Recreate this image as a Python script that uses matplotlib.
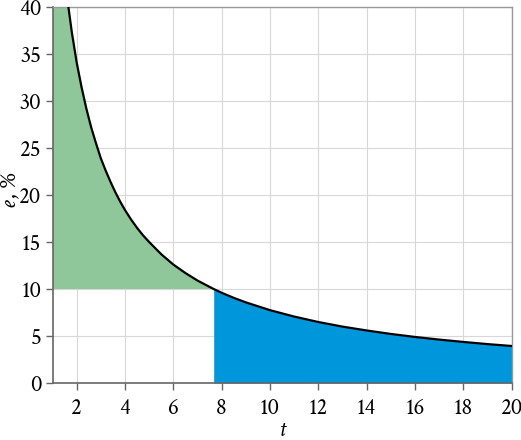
import matplotlib
matplotlib.use("Agg")
import matplotlib.pyplot as plt
import numpy as np

# values
t_vals = [1.0, 1.2, 1.4, 1.6, 1.8, 2.0, 2.2, 2.4, 2.6, 2.8, 3.0, 3.2, 3.4, 3.6, 3.8, 4.0,
          4.25, 4.5, 4.75, 5.0, 5.5, 6.0, 6.5, 7.0, 7.67, 8.0, 8.5, 9.0, 10.0, 11.0, 12.0,
          13.0, 14.0, 15.0, 16.0, 17.0, 18.0, 19.0, 20.0]
e_vals = [59.4, 51.7, 45.8, 41.1, 37.3, 34.1, 31.5, 29.2, 27.2, 25.5, 23.9, 22.6, 21.4,
          20.3, 19.3, 18.4, 17.4, 16.5, 15.7, 15.0, 13.7, 12.6, 11.7, 10.9, 10.0, 9.6,
          9.06, 8.58, 7.75, 7.07, 6.49, 6.0, 5.59, 5.22, 4.9, 4.62, 4.37, 4.14, 3.94]
threshold_e = 10.0
threshold_t = 7.67
x_ticks = [2, 4, 6, 8, 10, 12, 14, 16, 18, 20]
y_ticks = [0, 5, 10, 15, 20, 25, 30, 35, 40]

FONT = 'Crimson Text'
plt.rcParams['font.family'] = [FONT, 'DejaVu Serif']

fig = plt.figure(figsize=(5.21, 4.40), dpi=100)
ax = fig.add_axes([0.1008, 0.1295, 0.8812, 0.8545])

t = np.array(t_vals)
e = np.array(e_vals)

left = t <= threshold_t
ax.fill_between(t[left], threshold_e, e[left], color='#8fc79b', linewidth=0, zorder=2)
right = t >= threshold_t
ax.fill_between(t[right], 0, e[right], color='#0096db', linewidth=0, zorder=2)
ax.plot(t, e, color='black', linewidth=1.6, zorder=3, solid_joinstyle='round')

ax.set_xlim(1, 20)
ax.set_ylim(0, 40)
ax.set_xticks(x_ticks)
ax.set_yticks(y_ticks)
ax.set_xticklabels([str(v) for v in x_ticks], family=FONT, fontsize=16.5)
ax.set_yticklabels([str(v) for v in y_ticks], family=FONT, fontsize=16.5)
ax.grid(True, color='#d8d8d8', linewidth=0.8, zorder=0)
ax.set_axisbelow(True)

for s in ['left', 'bottom']:
    ax.spines[s].set_color('#666666')
    ax.spines[s].set_linewidth(1.2)
for s in ['top', 'right']:
    ax.spines[s].set_color('#999999')
    ax.spines[s].set_linewidth(1.0)

ax.tick_params(axis='both', direction='out', length=5, width=1.0, color='#666666', pad=3)
ax.tick_params(axis='x', pad=6)

ax.set_xlabel('t', family=FONT, style='italic', fontsize=17.5)
ax.xaxis.set_label_coords(0.5, -0.098)

ylab_x = -0.094
ax.text(ylab_x, 0.49, 'e', transform=ax.transAxes, rotation=90, family=FONT, style='italic',
        fontsize=17.5, ha='center', va='top')
ax.text(ylab_x, 0.49, ', %', transform=ax.transAxes, rotation=90, family=FONT,
        fontsize=17.5, ha='center', va='bottom')

fig.savefig('out.png', dpi=100)
